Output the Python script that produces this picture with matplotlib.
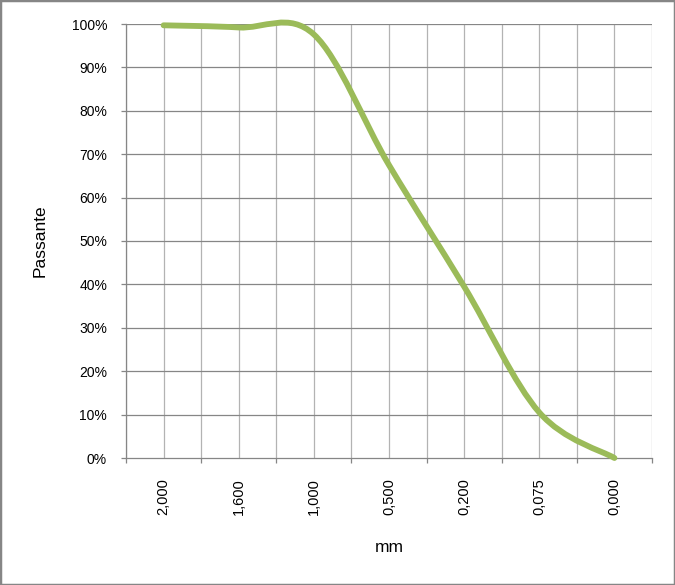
"""Curva granulometrica (passante acumulado por peneira)."""
import matplotlib

matplotlib.use("Agg")
import matplotlib.pyplot as plt
import numpy as np
from matplotlib.patches import PathPatch, Rectangle
from matplotlib.path import Path
from matplotlib.ticker import FixedLocator, FuncFormatter

peneiras = ["2,000", "1,600", "1,000", "0,500", "0,200", "0,075", "0,000"]
passante = [99.7, 99.2, 97.6, 67.5, 39.5, 10.5, 0.0]

plt.rcParams["font.family"] = ["Liberation Sans", "DejaVu Sans"]

COR_LINHA = "#9BBB59"
COR_EIXO = "#868686"
COR_GRADE_V = "#B3B3B3"


def _curva_suave(xs, ys):
    """Bezier estilo Excel (linha suavizada) passando pelos pontos."""
    pts = np.column_stack([xs, ys]).astype(float)
    ext = np.vstack([pts[0], pts, pts[-1]])
    verts = [pts[0]]
    codes = [Path.MOVETO]
    for i in range(len(pts) - 1):
        p0, p1, p2, p3 = ext[i], ext[i + 1], ext[i + 2], ext[i + 3]
        verts += [p1 + (p2 - p0) / 6, p2 - (p3 - p1) / 6, p2]
        codes += [Path.CURVE4] * 3
    return Path(verts, codes)


fig = plt.figure(figsize=(6.75, 5.85), dpi=100)
ax = fig.add_axes([126 / 675, 1 - 458 / 585, 526 / 675, 434 / 585])

xs = np.arange(len(peneiras))
ax.set_xlim(-0.5, len(peneiras) - 0.5)
ax.set_ylim(0, 100)

# grade
for xv in np.arange(-0.5, len(peneiras), 0.5):
    ax.axvline(xv, color=COR_GRADE_V, linewidth=0.9, zorder=1)
for yv in range(10, 101, 10):
    ax.axhline(yv, color=COR_EIXO, linewidth=0.9, zorder=1)

ax.add_patch(PathPatch(_curva_suave(xs, passante), facecolor="none",
                       edgecolor=COR_LINHA, linewidth=4.2, capstyle="round",
                       joinstyle="round", zorder=3, clip_on=False))

ax.set_xticks(xs)
ax.set_xticklabels(peneiras, rotation=90, fontsize=10.5)
ax.xaxis.set_minor_locator(FixedLocator(np.arange(-0.5, len(peneiras), 1.0)))
ax.tick_params(axis="x", which="major", length=0, pad=14.4)
ax.tick_params(axis="x", which="minor", length=3.6, width=0.9, color=COR_EIXO)

ax.set_yticks(range(0, 101, 10))
ax.yaxis.set_major_formatter(FuncFormatter(lambda v, _: f"{v:.0f}%"))
ax.tick_params(axis="y", length=3.6, width=0.9, color=COR_EIXO, pad=10,
               labelsize=10)

for lado in ("top", "right"):
    ax.spines[lado].set_visible(False)
for lado in ("left", "bottom"):
    ax.spines[lado].set_color(COR_EIXO)
    ax.spines[lado].set_linewidth(0.9)

ax.set_xlabel("mm", fontsize=12.5)
ax.xaxis.set_label_coords(0.5, (458 - 548) / 434)
ax.xaxis.label.set_va("center")
ax.set_ylabel("Passante", fontsize=12.5)
ax.yaxis.set_label_coords((40 - 126) / 526, 0.5)
ax.yaxis.label.set_va("center")

fig.add_artist(Rectangle((0, 0), 1, 1, transform=fig.transFigure, fill=False,
                         edgecolor=COR_EIXO, linewidth=2.5))

fig.savefig("out.png", dpi=100)
plt.close(fig)
